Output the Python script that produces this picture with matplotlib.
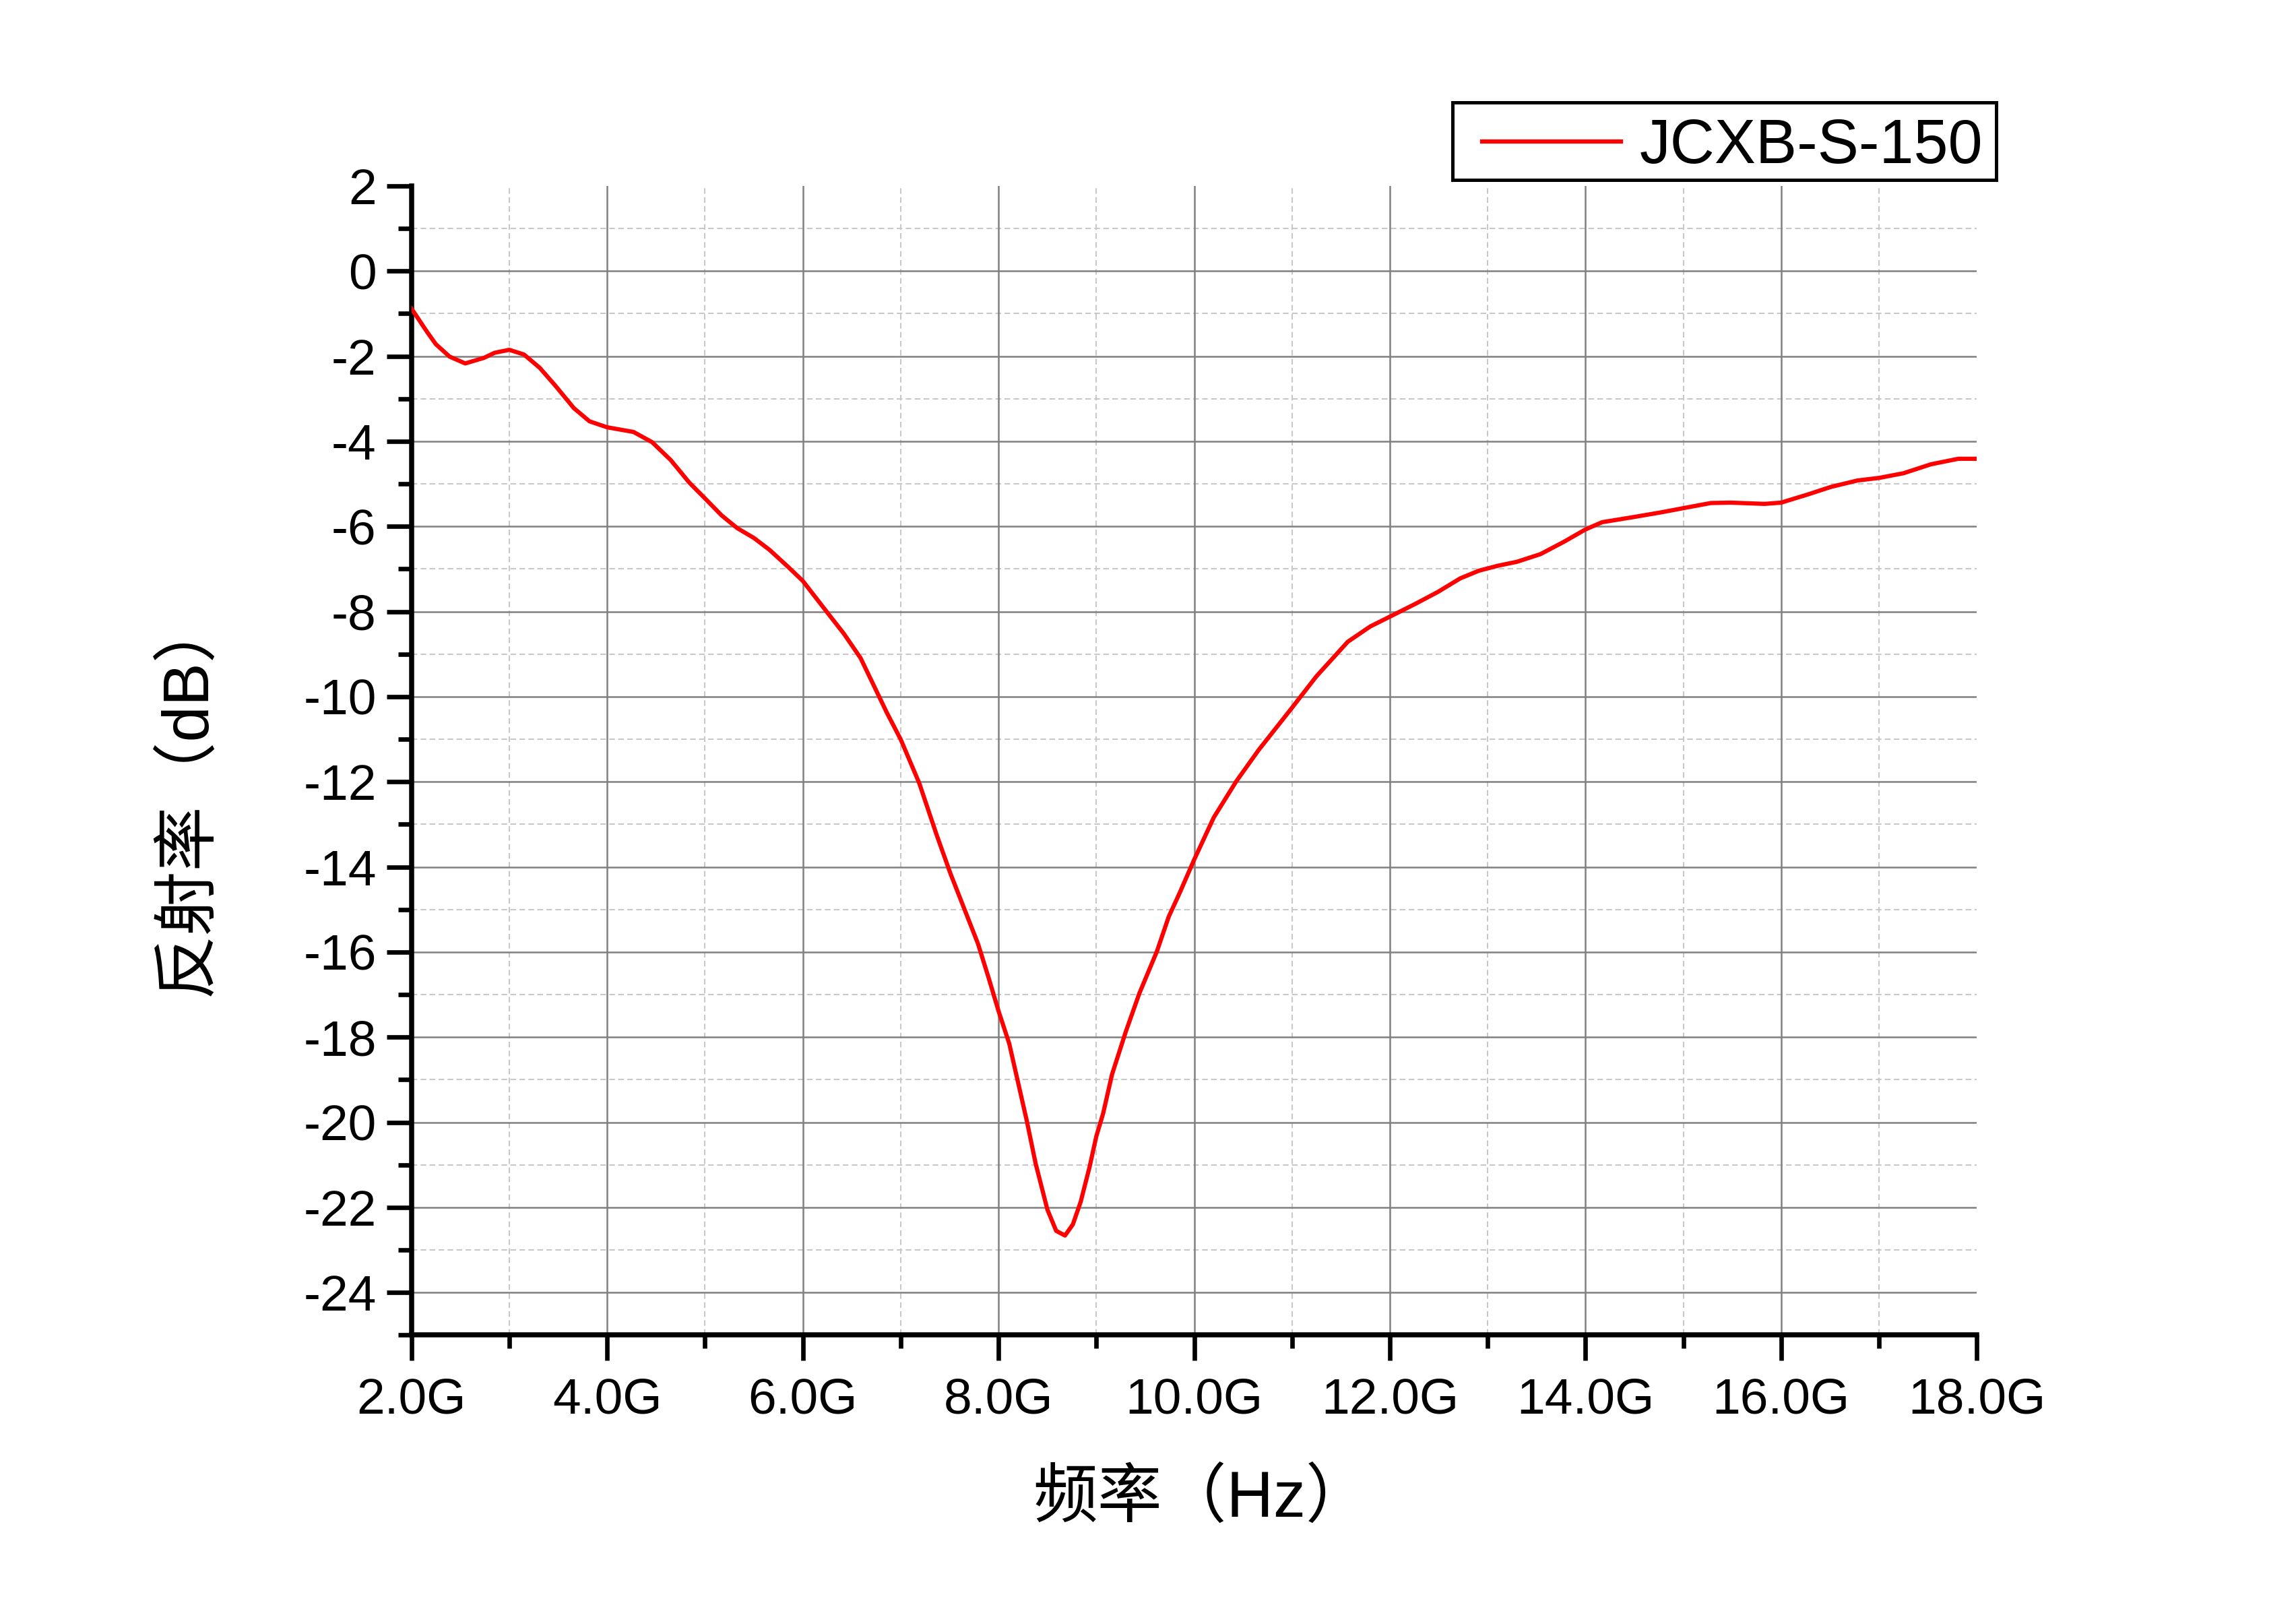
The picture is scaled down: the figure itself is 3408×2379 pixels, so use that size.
import numpy as np
import matplotlib

matplotlib.use("Agg")
import matplotlib.pyplot as plt
from matplotlib.patches import Rectangle
from matplotlib.ticker import FixedLocator

plt.rcParams["font.family"] = ["Liberation Sans", "Noto Sans CJK SC"]
plt.rcParams["axes.unicode_minus"] = False

# frequency (GHz) and reflectivity (dB)
freq = [2.0, 2.16, 2.25, 2.39, 2.55, 2.74, 2.85, 3.0, 3.15, 3.31,
        3.47, 3.66, 3.82, 4.0, 4.27, 4.46, 4.65, 4.84, 5.0, 5.17,
        5.33, 5.5, 5.66, 5.85, 6.0, 6.26, 6.42, 6.59, 6.72, 6.86,
        7.0, 7.19, 7.37, 7.51, 7.65, 7.79, 7.9, 8.0, 8.11, 8.2,
        8.29, 8.38, 8.5, 8.59, 8.68, 8.76, 8.84, 8.93, 9.0, 9.07,
        9.16, 9.3, 9.44, 9.62, 9.74, 9.85, 10.0, 10.2, 10.43, 10.66,
        11.0, 11.25, 11.57, 11.8, 12.0, 12.26, 12.49, 12.72, 12.91, 13.11,
        13.3, 13.54, 13.78, 14.0, 14.17, 14.49, 14.77, 15.0, 15.28, 15.48,
        15.83, 16.0, 16.27, 16.51, 16.78, 17.0, 17.25, 17.53, 17.81, 18.0]
refl = [-0.88, -1.43, -1.72, -2.01, -2.17, -2.04, -1.92, -1.85, -1.96, -2.27,
        -2.69, -3.22, -3.53, -3.67, -3.78, -4.02, -4.44, -4.97, -5.34, -5.74,
        -6.04, -6.27, -6.55, -6.95, -7.28, -8.05, -8.52, -9.09, -9.71, -10.38,
        -11.0, -12.03, -13.26, -14.16, -14.98, -15.8, -16.61, -17.38, -18.15, -19.06,
        -19.97, -20.97, -22.05, -22.55, -22.66, -22.4, -21.87, -21.06, -20.33, -19.79,
        -18.88, -17.88, -16.97, -15.98, -15.17, -14.62, -13.83, -12.84, -11.99, -11.25,
        -10.26, -9.52, -8.71, -8.35, -8.12, -7.82, -7.54, -7.22, -7.04, -6.92,
        -6.83, -6.65, -6.36, -6.07, -5.9, -5.78, -5.67, -5.57, -5.45, -5.44,
        -5.47, -5.44, -5.25, -5.07, -4.92, -4.86, -4.75, -4.54, -4.41, -4.41]
series_name = "JCXB-S-150"

x_major = [2, 4, 6, 8, 10, 12, 14, 16, 18]
x_labels = ["2.0G", "4.0G", "6.0G", "8.0G", "10.0G", "12.0G", "14.0G", "16.0G", "18.0G"]
x_minor = [3, 5, 7, 9, 11, 13, 15, 17]
y_major = [-24, -22, -20, -18, -16, -14, -12, -10, -8, -6, -4, -2, 0, 2]
y_minor = [-25, -23, -21, -19, -17, -15, -13, -11, -9, -7, -5, -3, -1, 1]

fig = plt.figure(figsize=(11.36, 7.93), dpi=300)
ax = fig.add_axes([0.1792, 0.1671, 0.861 - 0.1792, 0.884 - 0.1671])
ax.set_xlim(2, 18)
ax.set_ylim(-25, 2)

# grid, skipping the lines that sit on the frame edges
dash = (0, (4, 2.4))
for v in x_minor:
    ax.axvline(v, color="#c8c8c8", lw=0.5, ls=dash, zorder=1)
for v in y_minor[1:]:
    ax.axhline(v, color="#c8c8c8", lw=0.5, ls=dash, zorder=1)
for v in x_major[1:-1]:
    ax.axvline(v, color="#808080", lw=0.6, zorder=1.5)
for v in y_major[:-1]:
    ax.axhline(v, color="#808080", lw=0.6, zorder=1.5)

ax.plot(freq, refl, color="red", lw=1.5, label=series_name, zorder=3)

ax.xaxis.set_major_locator(FixedLocator(x_major))
ax.set_xticklabels(x_labels)
ax.xaxis.set_minor_locator(FixedLocator(x_minor))
ax.yaxis.set_major_locator(FixedLocator(y_major))
ax.yaxis.set_minor_locator(FixedLocator(y_minor))

for side in ["top", "right"]:
    ax.spines[side].set_visible(False)
for side in ["left", "bottom"]:
    ax.spines[side].set_linewidth(1.8)
ax.tick_params(axis="x", which="major", pad=6)
ax.tick_params(which="major", direction="out", length=9, width=1.6, labelsize=18)
ax.tick_params(which="minor", direction="out", length=4.8, width=1.6)

ax.set_xlabel("频率（Hz）", fontsize=23)
ax.set_ylabel("反射率（dB）", fontsize=23)
ax.xaxis.set_label_coords(0.505, -0.116)
ax.yaxis.set_label_coords(-0.123, 0.47)

# legend box sits above the plot, partly past its right edge
box_x0, box_x1 = 0.6327, 0.8693
box_y0, box_y1 = 0.8877, 0.9361
fig.patches.append(Rectangle((box_x0, box_y0), box_x1 - box_x0, box_y1 - box_y0,
                             transform=fig.transFigure, fill=False,
                             edgecolor="black", lw=1.2))
leg = ax.legend(loc="center right", bbox_to_anchor=(0.8636, (box_y0 + box_y1) / 2 - 0.0035),
                bbox_transform=fig.transFigure, fontsize=22, frameon=False,
                borderaxespad=0, borderpad=0, handlelength=2.25, handletextpad=0.3)

fig.savefig("out.png", dpi=300, facecolor="white")
